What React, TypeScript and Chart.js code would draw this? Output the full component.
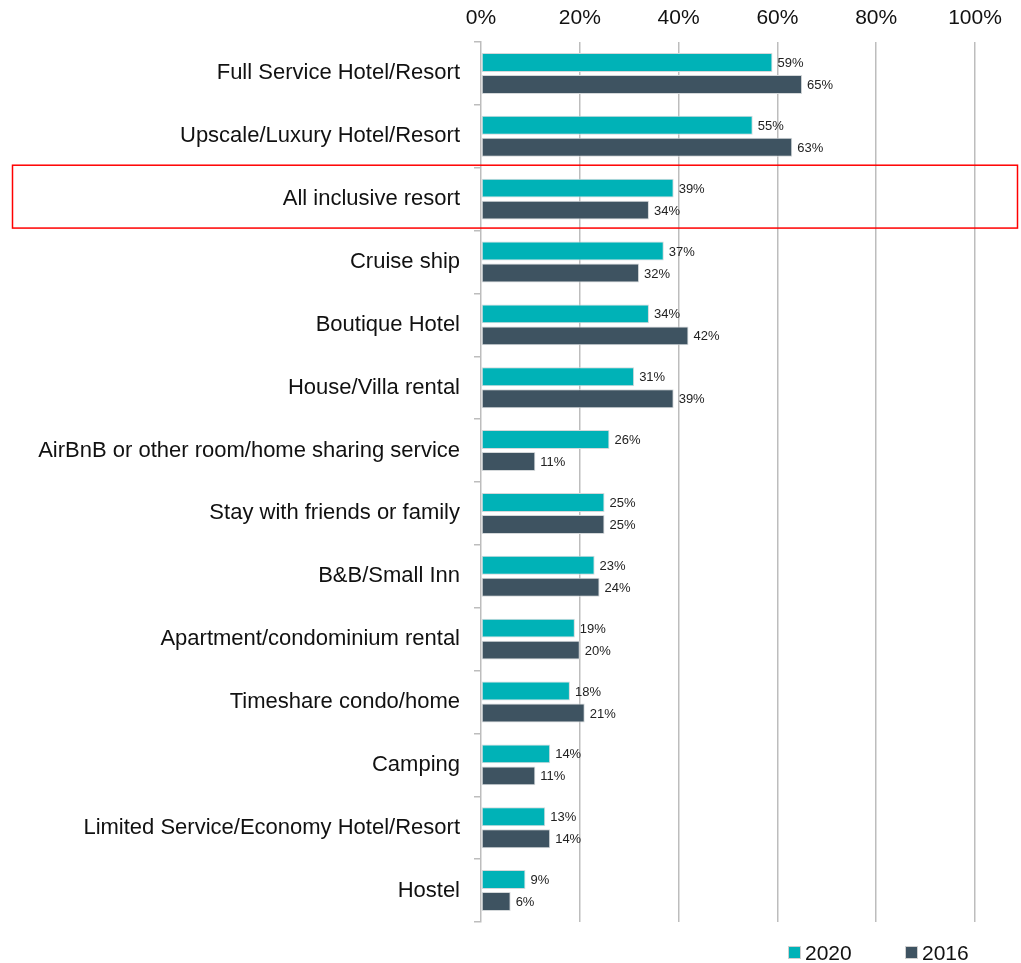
import React, { useEffect, useRef } from "react";
import { Chart, registerables } from "chart.js";

Chart.register(...registerables);

const categories = [
  "Full Service Hotel/Resort",
  "Upscale/Luxury Hotel/Resort",
  "All inclusive resort",
  "Cruise ship",
  "Boutique Hotel",
  "House/Villa rental",
  "AirBnB or other room/home sharing service",
  "Stay with friends or family",
  "B&B/Small Inn",
  "Apartment/condominium rental",
  "Timeshare condo/home",
  "Camping",
  "Limited Service/Economy Hotel/Resort",
  "Hostel",
];
const values2020 = [59, 55, 39, 37, 34, 31, 26, 25, 23, 19, 18, 14, 13, 9];
const values2016 = [65, 63, 34, 32, 42, 39, 11, 25, 24, 20, 21, 11, 14, 6];
const seriesLabels = ["2020", "2016"];
const xTicks = [0, 20, 40, 60, 80, 100];
const highlightIndex = 2;

const TEAL = "#00B2B7";
const DARK = "#3E5361";
const FONT = "'Liberation Sans', Arial, Helvetica, sans-serif";

export default function App() {
  const ref = useRef<HTMLCanvasElement>(null);
  useEffect(() => {
    if (!ref.current) return;
    const labelPlugin = {
      id: "valueLabels",
      afterDatasetsDraw(chart: any) {
        const ctx = chart.ctx;
        ctx.save();
        ctx.font = `13px ${FONT}`;
        ctx.fillStyle = "#222";
        ctx.textBaseline = "middle";
        ctx.textAlign = "left";
        chart.data.datasets.forEach((ds: any, di: number) => {
          const meta = chart.getDatasetMeta(di);
          meta.data.forEach((el: any, i: number) => {
            ctx.fillText(`${ds.data[i]}%`, el.x + 5, el.y + 1);
          });
        });
        ctx.restore();
      },
    };
    const extrasPlugin = {
      id: "extras",
      afterDraw(chart: any) {
        const ctx = chart.ctx;
        const y = chart.scales.y;
        ctx.save();
        // highlight box
        const c = y.getPixelForValue(highlightIndex);
        const half = (y.getPixelForValue(1) - y.getPixelForValue(0)) / 2;
        ctx.strokeStyle = "#FF0000";
        ctx.lineWidth = 1.5;
        ctx.strokeRect(12.5, c - half - 2.5, 1005, half * 2);
        // legend
        const colors = [TEAL, DARK];
        const xs = [789, 906];
        ctx.font = `21px ${FONT}`;
        ctx.textBaseline = "middle";
        ctx.textAlign = "left";
        seriesLabels.forEach((lab, i) => {
          ctx.fillStyle = colors[i];
          ctx.fillRect(xs[i], 947, 11, 11);
          ctx.strokeStyle = "#cfcfcf";
          ctx.lineWidth = 1;
          ctx.strokeRect(xs[i] - 0.5, 946.5, 12, 12);
          ctx.fillStyle = "#111";
          ctx.fillText(lab, xs[i] + 16, 954);
        });
        ctx.restore();
      },
    };
    const chart = new Chart(ref.current, {
      type: "bar",
      data: {
        labels: categories,
        datasets: [
          {
            label: seriesLabels[0],
            data: values2020,
            backgroundColor: TEAL,
            borderColor: "#d4d8da",
            borderWidth: 1,
            borderSkipped: false,
            categoryPercentage: 0.7,
            barPercentage: 0.86,
          },
          {
            label: seriesLabels[1],
            data: values2016,
            backgroundColor: DARK,
            borderColor: "#d4d8da",
            borderWidth: 1,
            borderSkipped: false,
            categoryPercentage: 0.7,
            barPercentage: 0.86,
          },
        ],
      },
      options: {
        indexAxis: "y",
        animation: false,
        responsive: false,
        maintainAspectRatio: false,
        layout: { padding: { left: 0, right: 46, top: 0, bottom: 41 } },
        plugins: { legend: { display: false }, tooltip: { enabled: false } },
        scales: {
          x: {
            position: "top",
            min: 0,
            max: 100,
            afterBuildTicks(scale: any) {
              scale.ticks = xTicks.map((v) => ({ value: v }));
            },
            afterFit(scale: any) {
              scale.height = 42;
            },
            ticks: {
              callback: (v: any) => `${v}%`,
              font: { family: FONT, size: 21 },
              color: "#111",
              padding: 11,
              maxRotation: 0,
            },
            grid: {
              color: (ctx: any) => (ctx.tick && ctx.tick.value === 0 ? "rgba(0,0,0,0)" : "#bdbdbd"),
              lineWidth: 1.5,
              drawTicks: false,
            },
            border: { display: false },
          },
          y: {
            afterFit(scale: any) {
              scale.width = 481;
            },
            ticks: {
              font: { family: FONT, size: 22 },
              color: "#111",
              padding: 14,
              autoSkip: false,
            },
            grid: {
              drawOnChartArea: false,
              drawTicks: true,
              tickLength: 7,
              color: "#bdbdbd",
              lineWidth: 1.5,
              offset: true,
            },
            border: { display: true, color: "#bdbdbd", width: 1.5 },
          },
        },
      },
      plugins: [labelPlugin, extrasPlugin],
    } as any);
    return () => chart.destroy();
  }, []);
  return (
    <div style={{ position: "absolute", left: 0, top: 0, width: 1021, height: 963, background: "#fff" }}>
      <canvas ref={ref} width={1021} height={963} />
    </div>
  );
}
